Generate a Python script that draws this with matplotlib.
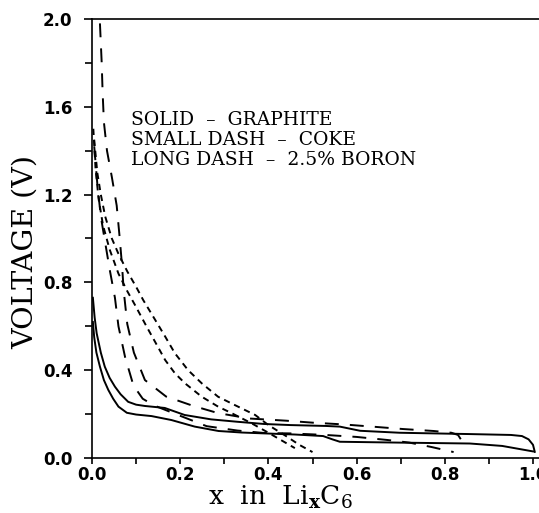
import matplotlib
matplotlib.use("Agg")
import matplotlib.pyplot as plt
from matplotlib.ticker import MultipleLocator, FormatStrFormatter

# ------------------------------------------------------------
# data (x in LixC6, voltage in V)
# ------------------------------------------------------------

# graphite (solid)
graf_alta_x = [0.002, 0.006, 0.0106, 0.02, 0.029, 0.04, 0.052, 0.065, 0.082, 0.10, 0.12, 0.165,
               0.21, 0.27, 0.33, 0.39, 0.45, 0.53, 0.562, 0.608, 0.698, 0.857, 0.95, 0.975,
               0.99, 1.0, 1.004]
graf_alta_v = [0.73, 0.64, 0.568, 0.48, 0.416, 0.365, 0.325, 0.29, 0.256, 0.243, 0.237, 0.228,
               0.196, 0.176, 0.165, 0.155, 0.15, 0.146, 0.143, 0.124, 0.115, 0.109, 0.105, 0.1,
               0.085, 0.06, 0.028]
graf_baja_x = [0.002, 0.005, 0.01, 0.018, 0.027, 0.037, 0.048, 0.06, 0.079, 0.10, 0.135, 0.18,
               0.233, 0.287, 0.34, 0.392, 0.46, 0.524, 0.545, 0.562, 0.7, 0.857, 0.93, 1.0]
graf_baja_v = [0.62, 0.55, 0.48, 0.416, 0.355, 0.31, 0.27, 0.234, 0.206, 0.198, 0.191, 0.173,
               0.143, 0.123, 0.116, 0.112, 0.107, 0.1, 0.085, 0.074, 0.07, 0.066, 0.055, 0.03]

# coke (small dash)
coque_a_x = [0.003, 0.008, 0.015, 0.025, 0.04, 0.06, 0.08, 0.0975, 0.124, 0.147, 0.166, 0.188,
             0.211, 0.249, 0.286, 0.317, 0.362, 0.40, 0.43, 0.46]
coque_a_v = [1.5, 1.32, 1.18, 1.06, 0.95, 0.84, 0.76, 0.697, 0.598, 0.515, 0.446, 0.386,
             0.34, 0.279, 0.234, 0.204, 0.158, 0.115, 0.08, 0.045]
coque_b_x = [0.005, 0.012, 0.02, 0.03, 0.045, 0.06, 0.08, 0.10, 0.116, 0.143, 0.166, 0.188,
             0.218, 0.249, 0.286, 0.324, 0.37, 0.40, 0.44, 0.47, 0.50]
coque_b_v = [1.45, 1.3, 1.2, 1.1, 1.0, 0.93, 0.85, 0.78, 0.72, 0.63, 0.553, 0.477,
             0.40, 0.34, 0.279, 0.241, 0.196, 0.15, 0.1, 0.06, 0.027]

# 2.5% boron (long dash)
boro_carga_x = [0.018, 0.022, 0.024, 0.027, 0.034, 0.045, 0.056, 0.062, 0.068, 0.072, 0.08,
                0.095, 0.12, 0.168, 0.23, 0.285, 0.356, 0.44, 0.5, 0.57, 0.635, 0.705, 0.775,
                0.815, 0.83, 0.838, 0.842]
boro_carga_v = [1.98, 1.8, 1.67, 1.53, 1.4, 1.28, 1.15, 1.02, 0.88, 0.76, 0.61,
                0.48, 0.355, 0.28, 0.237, 0.205, 0.18, 0.17, 0.161, 0.153, 0.143, 0.132, 0.123,
                0.115, 0.105, 0.08, 0.05]
boro_desc_x = [0.005, 0.012, 0.02, 0.03, 0.04, 0.052, 0.06, 0.075, 0.094, 0.115, 0.14, 0.19,
               0.26, 0.33, 0.39, 0.45, 0.53, 0.6, 0.67, 0.72, 0.77, 0.82]
boro_desc_v = [1.42, 1.25, 1.1, 0.98, 0.86, 0.73, 0.6, 0.46, 0.33, 0.27, 0.24, 0.2,
               0.145, 0.125, 0.114, 0.112, 0.105, 0.096, 0.082, 0.07, 0.05, 0.027]

texto = ["SOLID  \u2013  GRAPHITE",
         "SMALL DASH  \u2013  COKE",
         "LONG DASH  \u2013  2.5% BORON"]

# ------------------------------------------------------------
# figure
# ------------------------------------------------------------

plt.rcParams['mathtext.fontset'] = 'dejavuserif'
plt.rcParams['lines.scale_dashes'] = False

fig = plt.figure(figsize=(5.39, 5.13), dpi=100)
ax = fig.add_axes([92/539, 55/513, 447/539, 439/513])

lw = 1.4
corta = (0, (4.5, 3.5))
larga = (0, (10, 8))

ax.plot(graf_alta_x, graf_alta_v, color='black', lw=lw)
ax.plot(graf_baja_x, graf_baja_v, color='black', lw=lw)
ax.plot(coque_a_x, coque_a_v, color='black', lw=lw, linestyle=corta)
ax.plot(coque_b_x, coque_b_v, color='black', lw=lw, linestyle=corta)
ax.plot(boro_carga_x, boro_carga_v, color='black', lw=lw, linestyle=larga)
ax.plot(boro_desc_x, boro_desc_v, color='black', lw=lw, linestyle=larga)

ax.set_xlim(0, 1.0136)
ax.set_ylim(0, 2.0)

ax.xaxis.set_major_locator(MultipleLocator(0.2))
ax.xaxis.set_minor_locator(MultipleLocator(0.1))
ax.yaxis.set_major_locator(MultipleLocator(0.4))
ax.yaxis.set_minor_locator(MultipleLocator(0.2))
ax.xaxis.set_major_formatter(FormatStrFormatter('%.1f'))
ax.yaxis.set_major_formatter(FormatStrFormatter('%.1f'))

ax.spines['right'].set_visible(False)
for s in ['left', 'bottom', 'top']:
    ax.spines[s].set_linewidth(1.2)

ax.tick_params(axis='both', which='both', direction='out', width=1.2, top=False, right=False)
ax.tick_params(axis='y', which='major', length=6, pad=8, labelsize=12)
ax.tick_params(axis='y', which='minor', length=5)
ax.tick_params(axis='x', which='major', length=4.5, pad=1.5, labelsize=12)
ax.tick_params(axis='x', which='minor', length=4)
for lab in ax.get_xticklabels() + ax.get_yticklabels():
    lab.set_fontweight('bold')

for i, linea in enumerate(texto):
    ax.text(0.089, 1.54 - i * 0.092, linea, family='DejaVu Serif', fontsize=13.5,
            va='center', ha='left')

fig.text(25/539, 1 - 252/513, "VOLTAGE (V)", family='DejaVu Serif', fontsize=20.5,
         rotation=90, ha='center', va='center')
fig.text(280/539, 1 - 505/513, r"x  in  Li$_{\mathbf{x}}$C$_{6}$", family='DejaVu Serif',
         fontsize=19, ha='center', va='baseline')

fig.savefig("out.png", dpi=100)
plt.close(fig)
